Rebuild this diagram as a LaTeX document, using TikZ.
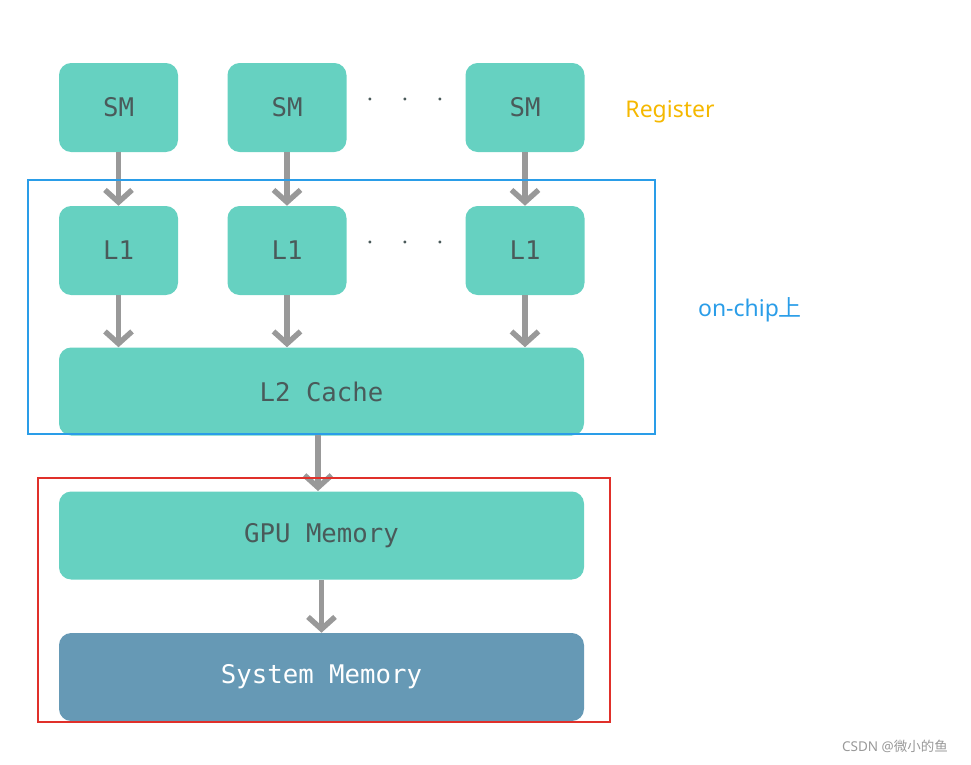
\documentclass[tikz,border=0pt]{standalone}
\usepackage{fontspec}
\setmainfont{Noto Sans}
\setmonofont{DejaVu Sans Mono}
\newfontfamily\cjk{Noto Sans CJK SC}
\usetikzlibrary{arrows.meta,positioning}
\definecolor{teal}{HTML}{66D1C1}
\definecolor{sysmem}{HTML}{6699B5}
\definecolor{txt}{HTML}{4A5A5A}
\definecolor{flow}{HTML}{999999}
\definecolor{chip}{HTML}{2A9DE8}
\definecolor{offchip}{HTML}{E0302A}
\definecolor{reg}{HTML}{F5B800}
\tikzset{
  box/.style={fill=teal, rounded corners=9pt, text=txt, font=\ttfamily\fontsize{19}{22}\selectfont, inner sep=0pt},
  small/.style={box, minimum width=119*0.026cm, minimum height=89*0.026cm},
  wide/.style={box, minimum width=525*0.026cm, minimum height=88*0.026cm},
  flow/.style={draw=flow, line width=4pt, -{Straight Barb[length=9pt,width=20pt,line width=4pt]}},
  dots/.style={text=txt, font=\fontsize{20}{22}\selectfont}
}
\begin{document}
\begin{tikzpicture}[x=0.026cm, y=-0.026cm]
\useasboundingbox (0,0) rectangle (971,764);

\node[small] (sma) at (118.5,107.5) {SM};
\node[small] (smb) at (287,107.5) {SM};
\node[small] (smc) at (525,107.5) {SM};
\node[dots] (dsm) at (405,100) {$\cdot\ \ \ \cdot\ \ \ \cdot$};

\node[small] (la) at (118.5,250.5) {L1};
\node[small] (lb) at (287,250.5) {L1};
\node[small] (lc) at (525,250.5) {L1};
\node[dots] (dl) at (405,243) {$\cdot\ \ \ \cdot\ \ \ \cdot$};

\node[wide] (l2) at (321.5,391.5) {L2 Cache};
\node[wide] (gpu) at (321.5,535.5) {GPU Memory};
\node[wide, fill=sysmem, text=white] (sys) at (321.5,677) {System Memory};

\draw[flow] (sma) -- (la);
\draw[flow] (smb) -- (lb);
\draw[flow] (smc) -- (lc);
\draw[flow] (la) -- (la |- l2.north);
\draw[flow] (lb) -- (lb |- l2.north);
\draw[flow] (lc) -- (lc |- l2.north);
\draw[flow] (318,435) -- (318,491);
\draw[flow] (gpu) -- (sys);

\draw[chip, line width=1.6pt] (28,180) rectangle (655,434);
\draw[offchip, line width=1.6pt] (38,478) rectangle (610,722);

\node[text=reg, font=\fontsize{17}{20}\selectfont] (register) at (670,112) {Register};
\node[text=chip, font=\fontsize{17}{20}\selectfont] (onchip) at (750,310) {on-chip{\cjk 上}};
\node[text=flow, font=\fontsize{10}{12}\selectfont] (mark) at (895,746) {CSDN @{\cjk 微小的鱼}};
\end{tikzpicture}
\end{document}
